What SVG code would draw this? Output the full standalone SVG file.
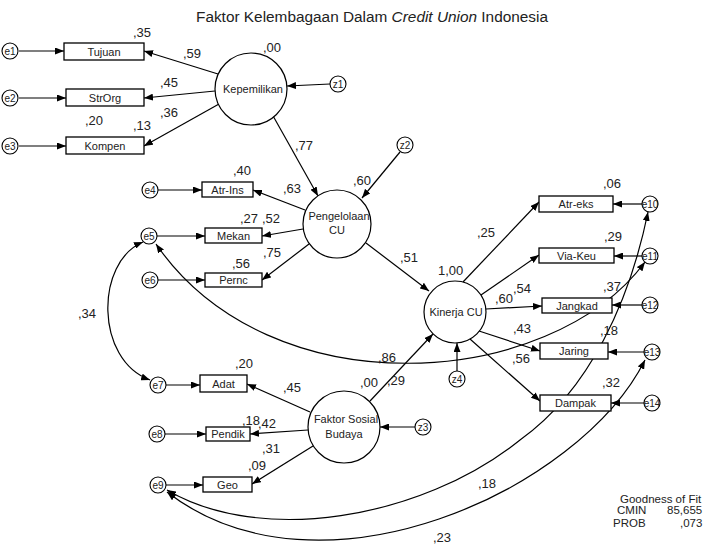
<svg xmlns="http://www.w3.org/2000/svg" width="704" height="544" viewBox="0 0 704 544">
<defs>
<marker id="ah" viewBox="0 0 9 7" refX="9" refY="3.5" markerWidth="9" markerHeight="7" markerUnits="userSpaceOnUse" orient="auto-start-reverse">
<path d="M0,0 L9,3.5 L0,7 z" fill="#000"/>
</marker>
<style>
.bx{fill:#fff;stroke:#000;stroke-width:1.3}
.lv{fill:#fff;stroke:#000;stroke-width:1.2}
.er{fill:#fff;stroke:#000;stroke-width:1.1}
.ln{fill:none;stroke:#000;stroke-width:1.2;marker-end:url(#ah)}
.cv{fill:none;stroke:#000;stroke-width:1.2;marker-end:url(#ah);marker-start:url(#ah)}
text{font-family:"Liberation Sans",Arial,sans-serif;fill:#222}
.t{font-size:11px;text-anchor:middle}
.e{font-size:10px;text-anchor:middle}
.n{font-size:13px}
.g{font-size:11.5px}
</style>
</defs>
<rect width="704" height="544" fill="#fff"/>
<text x="196" y="22" font-size="14" textLength="352" lengthAdjust="spacingAndGlyphs">Faktor Kelembagaan Dalam <tspan font-style="italic">Credit Union</tspan> Indonesia</text>

<g id="connectors">
<line class="ln" x1="19" y1="51" x2="64" y2="51"/>
<line class="ln" x1="19" y1="98" x2="66" y2="98"/>
<line class="ln" x1="19" y1="146" x2="66" y2="146"/>
<line class="ln" x1="218" y1="74" x2="144" y2="51"/>
<line class="ln" x1="215" y1="91" x2="144" y2="98"/>
<line class="ln" x1="219" y1="104" x2="144" y2="146"/>
<line class="ln" x1="330" y1="84" x2="287" y2="86"/>
<line class="ln" x1="272" y1="114" x2="318" y2="196"/>
<line class="ln" x1="400" y1="152" x2="362" y2="198"/>
<line class="ln" x1="158" y1="190" x2="202" y2="190"/>
<line class="ln" x1="157" y1="236" x2="205" y2="236"/>
<line class="ln" x1="158" y1="280" x2="205" y2="280"/>
<line class="ln" x1="305" y1="210" x2="253" y2="190"/>
<line class="ln" x1="303" y1="229" x2="262" y2="236"/>
<line class="ln" x1="309" y1="244" x2="262" y2="280"/>
<line class="ln" x1="366" y1="243" x2="429" y2="291"/>
<line class="ln" x1="457" y1="371" x2="457" y2="343"/>
<line class="ln" x1="463" y1="282" x2="539" y2="202"/>
<line class="ln" x1="481" y1="295" x2="539" y2="255"/>
<line class="ln" x1="486" y1="309" x2="542" y2="306"/>
<line class="ln" x1="479" y1="331" x2="540" y2="351"/>
<line class="ln" x1="470" y1="339" x2="540" y2="401"/>
<line class="ln" x1="642" y1="204" x2="613" y2="204"/>
<line class="ln" x1="642" y1="256" x2="614" y2="256"/>
<line class="ln" x1="642" y1="305" x2="612" y2="305"/>
<line class="ln" x1="644" y1="352" x2="608" y2="352"/>
<line class="ln" x1="644" y1="403" x2="611" y2="403"/>
<line class="ln" x1="166" y1="385" x2="200" y2="385"/>
<line class="ln" x1="165" y1="434" x2="206" y2="434"/>
<line class="ln" x1="166" y1="485" x2="203" y2="485"/>
<line class="ln" x1="310" y1="412" x2="247" y2="384"/>
<line class="ln" x1="308" y1="430" x2="250" y2="434"/>
<line class="ln" x1="313" y1="446" x2="252" y2="484"/>
<line class="ln" x1="415" y1="427" x2="380" y2="427"/>
<line class="ln" x1="370" y1="401" x2="433" y2="334"/>
<path class="cv" d="M143,242 C95,262 95,360 150,380"/>
<path class="cv" d="M156,244 C270,410 550,390 645,262"/>
<path class="cv" d="M167,490 C260,545 420,520 520,440 C590,390 630,300 648,212"/>
<path class="cv" d="M167,492 C320,610 580,490 645,360"/>
</g>

<g id="e1"><circle class="er" cx="10" cy="51" r="8"/><text class="e" x="10" y="54.5">e1</text></g>
<g id="e2"><circle class="er" cx="10" cy="98" r="8"/><text class="e" x="10" y="101.5">e2</text></g>
<g id="e3"><circle class="er" cx="10" cy="146" r="8"/><text class="e" x="10" y="149.5">e3</text></g>
<g id="Tujuan"><rect class="bx" x="64" y="43" width="80" height="17"/><text class="t" x="104" y="55.5">Tujuan</text></g>
<g id="StrOrg"><rect class="bx" x="66" y="89" width="78" height="17"/><text class="t" x="105" y="101.5">StrOrg</text></g>
<g id="Kompen"><rect class="bx" x="66" y="137" width="78" height="17"/><text class="t" x="105" y="149.5">Kompen</text></g>
<g id="Kepemilikan"><circle class="lv" cx="251" cy="89" r="36"/><text class="t" x="253" y="93">Kepemilikan</text></g>
<g id="z1"><circle class="er" cx="338" cy="84" r="8"/><text class="e" x="338" y="87.5">z1</text></g>

<g id="e4"><circle class="er" cx="150" cy="190" r="8"/><text class="e" x="150" y="193.5">e4</text></g>
<g id="e5"><circle class="er" cx="149" cy="236" r="8"/><text class="e" x="149" y="239.5">e5</text></g>
<g id="e6"><circle class="er" cx="150" cy="280" r="8"/><text class="e" x="150" y="283.5">e6</text></g>
<g id="Atr-Ins"><rect class="bx" x="202" y="182" width="51" height="15"/><text class="t" x="227.5" y="193.5">Atr-Ins</text></g>
<g id="Mekan"><rect class="bx" x="205" y="228" width="57" height="15"/><text class="t" x="233.5" y="239.5">Mekan</text></g>
<g id="Pernc"><rect class="bx" x="205" y="273" width="57" height="14"/><text class="t" x="233.5" y="284">Pernc</text></g>
<g id="Pengelolaan"><circle class="lv" cx="337" cy="224" r="34"/><text class="t" x="339" y="220">Pengelolaan</text><text class="t" x="337" y="234">CU</text></g>
<g id="z2"><circle class="er" cx="405" cy="145" r="8"/><text class="e" x="405" y="148.5">z2</text></g>

<g id="Kinerja"><circle class="lv" cx="455" cy="312" r="31"/><text class="t" x="456" y="316" font-size="11.5">Kinerja CU</text></g>
<g id="z4"><circle class="er" cx="457" cy="379" r="8"/><text class="e" x="457" y="382.5">z4</text></g>
<g id="Atr-eks"><rect class="bx" x="539" y="196" width="74" height="16"/><text class="t" x="576" y="208">Atr-eks</text></g>
<g id="Via-Keu"><rect class="bx" x="539" y="248" width="75" height="15"/><text class="t" x="576.5" y="259.5">Via-Keu</text></g>
<g id="Jangkad"><rect class="bx" x="542" y="298" width="70" height="15"/><text class="t" x="577" y="309.5">Jangkad</text></g>
<g id="Jaring"><rect class="bx" x="540" y="343" width="68" height="16"/><text class="t" x="574" y="355">Jaring</text></g>
<g id="Dampak"><rect class="bx" x="540" y="395" width="71" height="16"/><text class="t" x="575.5" y="407">Dampak</text></g>
<g id="e10"><circle class="er" cx="650" cy="204" r="8"/><text class="e" x="650" y="207.5">e10</text></g>
<g id="e11"><circle class="er" cx="650" cy="256" r="8"/><text class="e" x="650" y="259.5">e11</text></g>
<g id="e12"><circle class="er" cx="650" cy="305" r="8"/><text class="e" x="650" y="308.5">e12</text></g>
<g id="e13"><circle class="er" cx="652" cy="352" r="8"/><text class="e" x="652" y="355.5">e13</text></g>
<g id="e14"><circle class="er" cx="652" cy="403" r="8"/><text class="e" x="652" y="406.5">e14</text></g>

<g id="e7"><circle class="er" cx="158" cy="385" r="8"/><text class="e" x="158" y="388.5">e7</text></g>
<g id="e8"><circle class="er" cx="157" cy="434" r="8"/><text class="e" x="157" y="437.5">e8</text></g>
<g id="e9"><circle class="er" cx="158" cy="485" r="8"/><text class="e" x="158" y="488.5">e9</text></g>
<g id="Adat"><rect class="bx" x="200" y="375" width="47" height="17"/><text class="t" x="223.5" y="387.5">Adat</text></g>
<g id="Pendik"><rect class="bx" x="206" y="427" width="44" height="14"/><text class="t" x="228" y="438">Pendik</text></g>
<g id="Geo"><rect class="bx" x="203" y="477" width="49" height="15"/><text class="t" x="227.5" y="488.5">Geo</text></g>
<g id="FaktorSosialBudaya"><circle class="lv" cx="344" cy="427" r="36"/><text class="t" x="346" y="423" font-size="10">Faktor Sosial</text><text class="t" x="344" y="438" font-size="10">Budaya</text></g>
<g id="z3"><circle class="er" cx="423" cy="427" r="8"/><text class="e" x="423" y="430.5">z3</text></g>

<g id="labels" class="n">
<text x="133" y="37">,35</text>
<text x="183" y="58">,59</text>
<text x="263" y="52">,00</text>
<text x="160" y="87">,45</text>
<text x="160" y="117">,36</text>
<text x="85" y="125">,20</text>
<text x="133" y="130">,13</text>
<text x="295" y="150">,77</text>
<text x="233" y="175">,40</text>
<text x="283" y="193">,63</text>
<text x="353" y="185">,60</text>
<text x="240" y="223">,27</text>
<text x="262" y="223">,52</text>
<text x="232" y="268">,56</text>
<text x="263" y="257">,75</text>
<text x="400" y="262">,51</text>
<text x="603" y="188">,06</text>
<text x="604" y="241">,29</text>
<text x="603" y="291">,37</text>
<text x="477" y="237">,25</text>
<text x="438" y="275">1,00</text>
<text x="495" y="303">,60</text>
<text x="513" y="293">,54</text>
<text x="513" y="333">,43</text>
<text x="512" y="363">,56</text>
<text x="600" y="335">,18</text>
<text x="602" y="387">,32</text>
<text x="378" y="362">,86</text>
<text x="360" y="387">,00</text>
<text x="387" y="385">,29</text>
<text x="283" y="392">,45</text>
<text x="235" y="368">,20</text>
<text x="242" y="425">,18</text>
<text x="258" y="428">,42</text>
<text x="262" y="453">,31</text>
<text x="248" y="470">,09</text>
<text x="78" y="318">,34</text>
<text x="478" y="488">,18</text>
<text x="433" y="542">,23</text>
</g>

<g id="fit" class="g">
<text x="620" y="503">Goodness of Fit</text>
<text x="617" y="514">CMIN</text>
<text x="667" y="514">85,655</text>
<text x="613" y="527">PROB</text>
<text x="680" y="527">,073</text>
</g>
</svg>
